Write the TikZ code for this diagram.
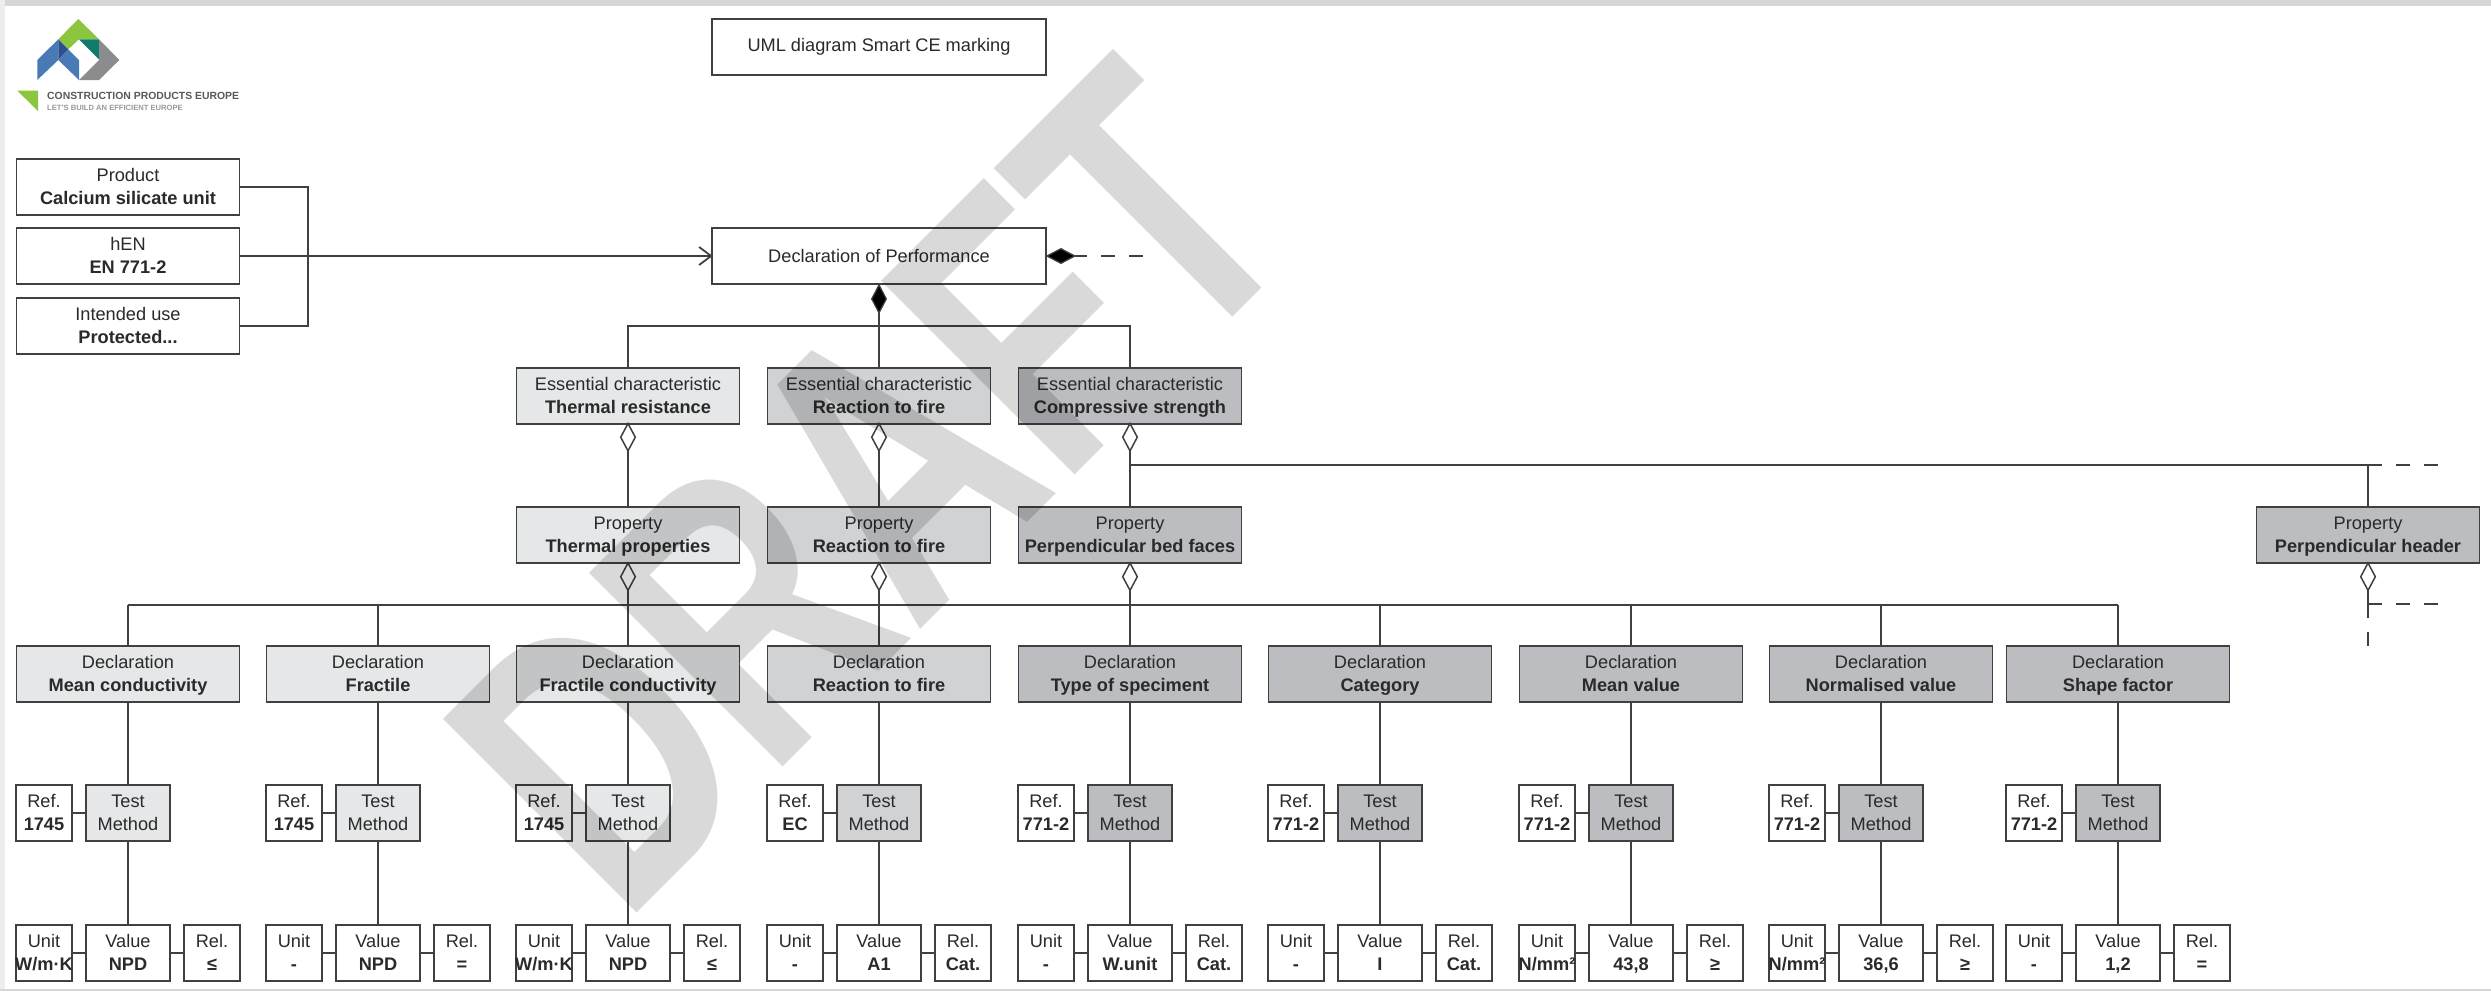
\documentclass[tikz,border=0pt]{standalone}
\usepackage{fontspec}
\setmainfont{Liberation Sans}
\usetikzlibrary{calc}
\definecolor{lnc}{HTML}{404040}
\definecolor{lightf}{HTML}{E6E7E8}
\definecolor{midf}{HTML}{D1D2D4}
\definecolor{darkf}{HTML}{BCBDC0}
\definecolor{wm}{HTML}{D9D9D9}
\definecolor{txtc}{HTML}{2A2A2A}
\definecolor{lgreen}{HTML}{8CC63F}
\definecolor{lblue}{HTML}{4A7AB5}
\definecolor{ldblue}{HTML}{2E4F8F}
\definecolor{lteal}{HTML}{0F7B6C}
\definecolor{lgray}{HTML}{8A8C8E}
\tikzset{
 x=1pt,y=-1pt,
 box/.style={draw=lnc,line width=1.8pt,fill=white,inner sep=0pt,align=center,text=txtc,font=\fontsize{18.2}{23}\selectfont},
 big/.style={box,minimum width=223pt,minimum height=56pt},
 wide/.style={box,minimum width=334pt,minimum height=56pt},
 sideb/.style={box,minimum width=56pt,minimum height=56pt},
 testb/.style={box,minimum width=84pt,minimum height=56pt},
 link/.style={draw=lnc,line width=1.8pt},
 dashl/.style={draw=lnc,line width=1.8pt,dash pattern=on 14pt off 14pt},
 fdia/.style={draw=lnc,line width=1.2pt,fill=black},
 odia/.style={draw=lnc,line width=1.5pt,fill=white},
}
\newcommand{\mst}{\rule[-6pt]{0pt}{23pt}}
\newcommand{\two}[2]{\mst #1\\\mst\textbf{#2}}
\newcommand{\mycol}[8]{
 \node[big,fill=#3] (d#1) at (#2,674) {\two{Declaration}{#4}};
 \node[testb,fill=#3] (t#1) at (#2,813) {\mst Test\\\mst Method};
 \node[sideb] (r#1) at ($(#2,813)+(-84,0)$) {\two{Ref.}{#5}};
 \node[testb] (v#1) at (#2,953) {\two{Value}{#7}};
 \node[sideb] (u#1) at ($(#2,953)+(-84,0)$) {\two{Unit}{\makebox[0pt]{#6}}};
 \node[sideb] (e#1) at ($(#2,953)+(84,0)$) {\two{Rel.}{#8}};
 \draw[link] (#2,605) -- (d#1.north);
 \draw[link] (d#1) -- (t#1);
 \draw[link] (t#1) -- (v#1);
 \draw[link] (r#1) -- (t#1);
 \draw[link] (u#1) -- (v#1);
 \draw[link] (v#1) -- (e#1);
}
\newcommand{\opendia}[2]{\draw[odia] (#1,#2) -- ++(7.3,13.7) -- ++(-7.3,13.7) -- ++(-7.3,-13.7) -- cycle;}
\begin{document}
\begin{tikzpicture}
\useasboundingbox (0,0) rectangle (2491,991);
\fill[white] (0,0) rectangle (2491,991);
\fill[black!16] (0,0) rectangle (2491,6);
\fill[black!7] (0,0) rectangle (5,991);
\fill[black!16] (0,989) rectangle (2491,991);
% logo
\fill[lgreen] (78.3,19) -- (99,39.3) -- (79,39.3) -- (68.3,49.3) -- (58.3,39.3) -- cycle;
\fill[lblue] (37.3,60) -- (58.3,39.3) -- (58.3,60) -- (37.3,80) -- cycle;
\fill[ldblue] (58.3,39.3) -- (68.3,49.5) -- (58.3,60) -- cycle;
\fill[lblue] (58.3,60) -- (68.3,49.5) -- (79,60) -- (79,80) -- cycle;
\fill[lteal] (79,39.3) -- (99,39.3) -- (99,59.3) -- cycle;
\fill[lgray] (99,39.3) -- (119.3,60) -- (99,80) -- (79,80) -- (99,60) -- cycle;
\fill[lgreen] (17.3,90.7) -- (38,90.7) -- (38,111) -- cycle;
\node[anchor=west,inner sep=0pt,text=black!65,font=\bfseries\fontsize{10.4}{12}\selectfont] (logot) at (47,95.5) {CONSTRUCTION PRODUCTS EUROPE};
\node[anchor=west,inner sep=0pt,text=black!40,font=\bfseries\fontsize{7.6}{9}\selectfont] (logos) at (47,107.5) {LET'S BUILD AN EFFICIENT EUROPE};
% top
\node[wide] (title) at (879,47) {UML diagram Smart CE marking};
\node[wide] (dop) at (879,256) {Declaration of Performance};
\node[big] (prod) at (128,187) {\two{Product}{Calcium silicate unit}};
\node[big] (hen) at (128,256) {\two{hEN}{EN 771-2}};
\node[big] (use) at (128,326) {\two{Intended use}{Protected...}};
\coordinate (jn) at (308,256);
\draw[link] (prod.east) -| (jn);
\draw[link] (use.east) -| (jn);
\draw[link] (hen.east) -- (dop.west);
\draw[link] (dop.west)+(-12,-9) -- (dop.west) -- +(-12,9);
% essential
\node[big,fill=lightf] (e1) at (628,396) {\two{Essential characteristic}{Thermal resistance}};
\node[big,fill=midf] (e2) at (879,396) {\two{Essential characteristic}{Reaction to fire}};
\node[big,fill=darkf] (e3) at (1130,396) {\two{Essential characteristic}{Compressive strength}};
\node[big,fill=lightf] (p1) at (628,535) {\two{Property}{Thermal properties}};
\node[big,fill=midf] (p2) at (879,535) {\two{Property}{Reaction to fire}};
\node[big,fill=darkf] (p3) at (1130,535) {\two{Property}{Perpendicular bed faces}};
\node[big,fill=darkf] (p4) at (2368,535) {\two{Property}{Perpendicular header}};
\coordinate (bus) at (879,326);
\draw[link] (e1.north) |- (bus) -| (e3.north);
\draw[link] (dop.south) -- (e2.north);
\draw[link] (e1) -- (p1);
\draw[link] (e2) -- (p2);
\draw[link] (e3) -- (p3);
\draw[link] (1130,465) -- (2382,465);
\draw[link] (2368,465) -- (p4.north);
\draw[dashl] (2396,465) -- (2438,465);
\draw[link] (128,605) -- (2118,605);
\draw[link] (p1.south) -- (628,605);
\draw[link] (p2.south) -- (879,605);
\draw[link] (p3.south) -- (1130,605);
% columns
\mycol{a}{128}{lightf}{Mean conductivity}{1745}{W/m·K}{NPD}{≤}
\mycol{b}{378}{lightf}{Fractile}{1745}{-}{NPD}{=}
\mycol{c}{628}{lightf}{Fractile conductivity}{1745}{W/m·K}{NPD}{≤}
\mycol{d}{879}{midf}{Reaction to fire}{EC}{-}{A1}{Cat.}
\mycol{f}{1130}{darkf}{Type of speciment}{771-2}{-}{W.unit}{Cat.}
\mycol{g}{1380}{darkf}{Category}{771-2}{-}{I}{Cat.}
\mycol{h}{1631}{darkf}{Mean value}{771-2}{N/mm²}{43,8}{≥}
\mycol{i}{1881}{darkf}{Normalised value}{771-2}{N/mm²}{36,6}{≥}
\mycol{j}{2118}{darkf}{Shape factor}{771-2}{-}{1,2}{=}
% right stub
\draw[link] (p4.south) -- (2368,618);
\draw[link] (2368,604) -- (2382,604);
\draw[dashl] (2396,604) -- (2438,604);
\draw[dashl] (2368,632) -- (2368,660);
% diamonds
\opendia{628}{423.5}\opendia{879}{423.5}\opendia{1130}{423.5}
\opendia{628}{563}\opendia{879}{563}\opendia{1130}{563}\opendia{2368}{563}
\draw[fdia] (dop.south) -- ++(7.3,14) -- ++(-7.3,14) -- ++(-7.3,-14) -- cycle;
\draw[fdia] (dop.east) -- ++(14,-7.3) -- ++(14,7.3) -- ++(-14,7.3) -- cycle;
\draw[link] (1074,256) -- (1087,256);
\draw[dashl] (1101,256) -- (1143,256);
% watermark
\begin{scope}[blend mode=multiply]
\node[rotate=45,anchor=base west,inner sep=0pt,text=wm,font=\bfseries\fontsize{398}{398}\selectfont,xscale=0.72] (draft) at (623,927) {DRAFT};
\end{scope}
\end{tikzpicture}
\end{document}
